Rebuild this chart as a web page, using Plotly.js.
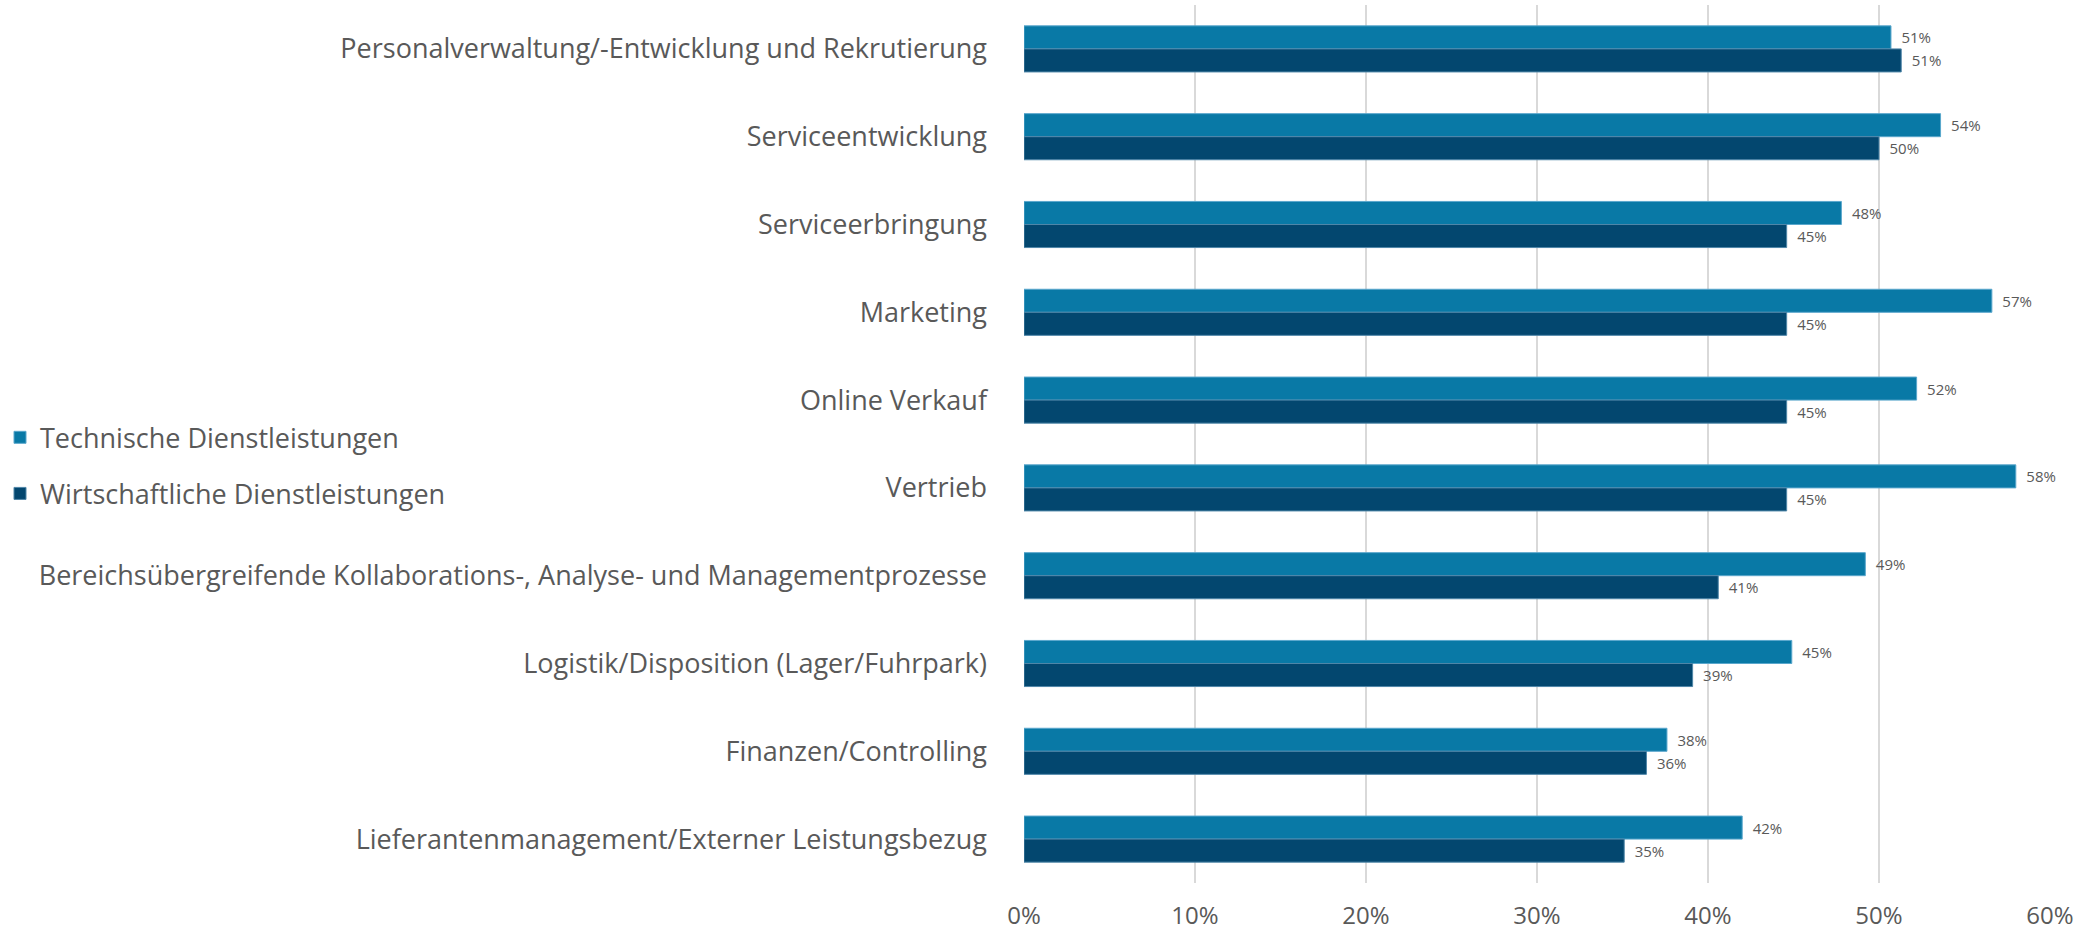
<!DOCTYPE html>
<html>
<head>
<meta charset="utf-8">
<script src="https://cdn.plot.ly/plotly-3.0.1.min.js"></script>
<style>html,body{margin:0;padding:0;background:#fff;}#chart{width:2094px;height:935px;}</style>
</head>
<body>
<div id="chart"></div>
<script>
const categories = [
  "Personalverwaltung/-Entwicklung und Rekrutierung",
  "Serviceentwicklung",
  "Serviceerbringung",
  "Marketing",
  "Online Verkauf",
  "Vertrieb",
  "Bereichsübergreifende Kollaborations-, Analyse- und Managementprozesse",
  "Logistik/Disposition (Lager/Fuhrpark)",
  "Finanzen/Controlling",
  "Lieferantenmanagement/Externer Leistungsbezug"
];
const seriesNames = ["Technische Dienstleistungen", "Wirtschaftliche Dienstleistungen"];
const technische = [50.7, 53.6, 47.8, 56.6, 52.2, 58.0, 49.2, 44.9, 37.6, 42.0];
const wirtschaftliche = [51.3, 50.0, 44.6, 44.6, 44.6, 44.6, 40.6, 39.1, 36.4, 35.1];
const xTicks = [0, 10, 20, 30, 40, 50, 60];
const xTickLabels = ["0%", "10%", "20%", "30%", "40%", "50%", "60%"];

const FONT = "Open Sans, Noto Sans, sans-serif";
const GREY = "#595959";

function barTrace(name, values, color, edge, idx) {
  return {
    type: "bar",
    orientation: "h",
    name: name,
    legendgroup: "g" + idx,
    y: categories,
    x: values,
    marker: {color: color, line: {color: edge, width: 1}},
    text: values.map(v => "\u2002" + Math.round(v) + "%"),
    textposition: "outside",
    textfont: {family: FONT, size: 15, color: GREY},
    cliponaxis: false,
    hoverinfo: "x+y+name"
  };
}

const data = [
  barTrace(seriesNames[0], technische, "#0979a6", "#5aa7cc", 0),
  barTrace(seriesNames[1], wirtschaftliche, "#03476f", "#4f86a8", 1)
];

const layout = {
  width: 2094,
  height: 935,
  paper_bgcolor: "#ffffff",
  plot_bgcolor: "#ffffff",
  margin: {l: 1024, r: 44, t: 5, b: 52, pad: 0},
  font: {family: FONT, color: GREY},
  barmode: "group",
  bargap: 0.475,
  bargroupgap: 0,
  showlegend: true,
  legend: {
    xref: "container", yref: "container",
    x: 0, y: 0.558, xanchor: "left", yanchor: "top",
    font: {family: FONT, size: 27, color: GREY},
    traceorder: "grouped",
    tracegroupgap: 18,
    itemwidth: 30,
    bgcolor: "rgba(0,0,0,0)"
  },
  xaxis: {
    range: [0, 60],
    tickvals: xTicks,
    ticktext: xTickLabels,
    showgrid: true,
    gridcolor: "#d9d9d9",
    gridwidth: 2,
    zeroline: false,
    showline: false,
    ticks: "",
    tickfont: {family: FONT, size: 24, color: GREY},
    ticklabelstandoff: 16,
    fixedrange: true
  },
  yaxis: {
    type: "category",
    autorange: "reversed",
    showgrid: false,
    zeroline: false,
    showline: false,
    ticks: "",
    tickfont: {family: FONT, size: 27, color: GREY},
    ticklabelstandoff: 36,
    fixedrange: true
  }
};

Plotly.newPlot("chart", data, layout, {displayModeBar: false, staticPlot: true});
</script>
</body>
</html>
